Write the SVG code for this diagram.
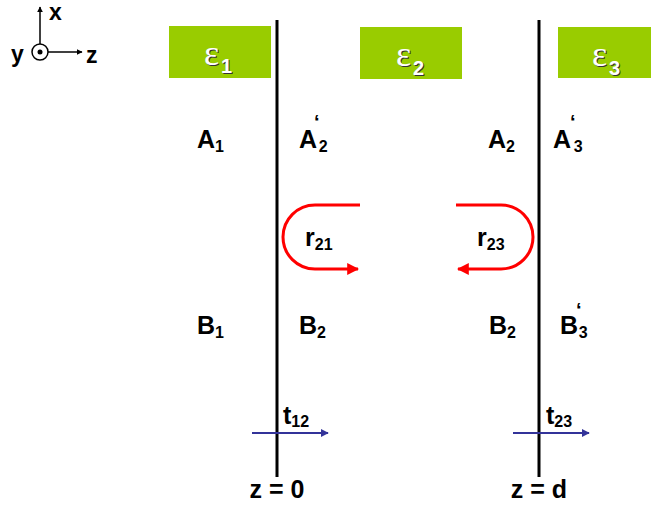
<svg xmlns="http://www.w3.org/2000/svg" width="651" height="517" viewBox="0 0 651 517">
<style>
.lbl{font-family:"Liberation Sans",Arial,sans-serif;font-weight:bold;font-size:25px;fill:#000}
.sub{font-size:16px}
.pr{font-size:20px}
.eps{font-family:"Liberation Serif","Times New Roman",serif;font-size:36px;fill:#fff}
.epsS{font-family:"Liberation Serif","Times New Roman",serif;font-size:36px;fill:#333}
.esub{font-family:"Liberation Sans",Arial,sans-serif;font-weight:bold;font-size:20px}
.box{fill:#99cc00}
.iface{stroke:#000;stroke-width:3;fill:none}
.refl{stroke:#ff0000;stroke-width:3;fill:none}
.trans{stroke:#333399;stroke-width:2;fill:none}
.ax{stroke:#000;stroke-width:1.5;fill:none}
</style>
<defs>
<marker id="ar" viewBox="0 0 10 10" refX="9" refY="5" markerWidth="4" markerHeight="4" orient="auto">
<path d="M0,0 L10,5 L0,10 z" fill="#ff0000"/>
</marker>
<marker id="ab" viewBox="0 0 10 10" refX="9" refY="5" markerWidth="4" markerHeight="4" orient="auto">
<path d="M0,0 L10,5 L0,10 z" fill="#333399"/>
</marker>
<marker id="ak" viewBox="0 0 10 10" refX="9" refY="5" markerWidth="4" markerHeight="4" orient="auto">
<path d="M0,0 L10,5 L0,10 z" fill="#000"/>
</marker>
</defs>

<g id="axes">
<line class="ax" x1="40" y1="44" x2="40" y2="7" marker-end="url(#ak)"/>
<circle cx="40" cy="52" r="8" fill="#fff" stroke="#000" stroke-width="1.5"/>
<circle cx="40" cy="52" r="2.5" fill="#000"/>
<line class="ax" x1="48" y1="52" x2="82" y2="52" marker-end="url(#ak)"/>
<text class="lbl" x="49" y="20" style="font-size:23px">x</text>
<text class="lbl" x="11" y="62" style="font-size:23px">y</text>
<text class="lbl" x="86" y="63" style="font-size:23px">z</text>
</g>

<g id="eps1">
<rect class="box" x="169" y="26" width="102" height="52"/>
<text class="epsS" x="205" y="66">ε</text>
<text class="esub" x="222" y="74" fill="#333">1</text>
<text class="eps" x="204" y="65">ε</text>
<text class="esub" x="221" y="73" fill="#fff">1</text>
</g>
<g id="eps2">
<rect class="box" x="360" y="27" width="102" height="52"/>
<text class="epsS" x="397" y="67">ε</text>
<text class="esub" x="414" y="76" fill="#333">2</text>
<text class="eps" x="396" y="66">ε</text>
<text class="esub" x="413" y="75" fill="#fff">2</text>
</g>
<g id="eps3">
<rect class="box" x="558" y="27" width="93" height="51"/>
<text class="epsS" x="593" y="67">ε</text>
<text class="esub" x="610" y="76" fill="#333">3</text>
<text class="eps" x="592" y="66">ε</text>
<text class="esub" x="609" y="75" fill="#fff">3</text>
</g>

<g id="interface1"><line class="iface" x1="277" y1="20" x2="277" y2="477"/></g>
<g id="interface2"><line class="iface" x1="539" y1="20" x2="539" y2="477"/></g>

<g id="labels">
<text class="lbl" x="197" y="148">A<tspan class="sub" dy="4">1</tspan></text>
<text class="lbl" x="299" y="148">A<tspan class="pr" dx="-3" dy="-19">‘</tspan><tspan class="sub" dx="-1" dy="23">2</tspan></text>
<text class="lbl" x="488" y="148">A<tspan class="sub" dy="4">2</tspan></text>
<text class="lbl" x="553" y="148">A<tspan class="pr" dx="-1" dy="-19">‘</tspan><tspan class="sub" dx="-2" dy="23">3</tspan></text>
<text class="lbl" x="197" y="334">B<tspan class="sub" dy="4">1</tspan></text>
<text class="lbl" x="299" y="334">B<tspan class="sub" dy="4">2</tspan></text>
<text class="lbl" x="489" y="334">B<tspan class="sub" dy="4">2</tspan></text>
<text class="lbl" x="560" y="334">B<tspan class="pr" dx="-2" dy="-17">‘</tspan><tspan class="sub" dx="-3" dy="21">3</tspan></text>
<text class="lbl" x="305" y="246">r<tspan class="sub" dy="4">21</tspan></text>
<text class="lbl" x="477" y="246">r<tspan class="sub" dy="4">23</tspan></text>
<text class="lbl" x="283" y="424">t<tspan class="sub" dy="3">12</tspan></text>
<text class="lbl" x="546" y="424">t<tspan class="sub" dy="3">23</tspan></text>
<text class="lbl" x="277" y="498" text-anchor="middle">z = 0</text>
<text class="lbl" x="539" y="498" text-anchor="middle">z = d</text>
</g>

<g id="connectors">
<path class="refl" d="M360,205 L315,205 A32,32 0 0 0 315,269 L358,269" marker-end="url(#ar)"/>
<path class="refl" d="M456,205 L501,205 A32,32 0 0 1 501,269 L458,269" marker-end="url(#ar)"/>
<line class="trans" x1="252" y1="433" x2="328" y2="433" marker-end="url(#ab)"/>
<line class="trans" x1="513" y1="433" x2="589" y2="433" marker-end="url(#ab)"/>
</g>
</svg>
